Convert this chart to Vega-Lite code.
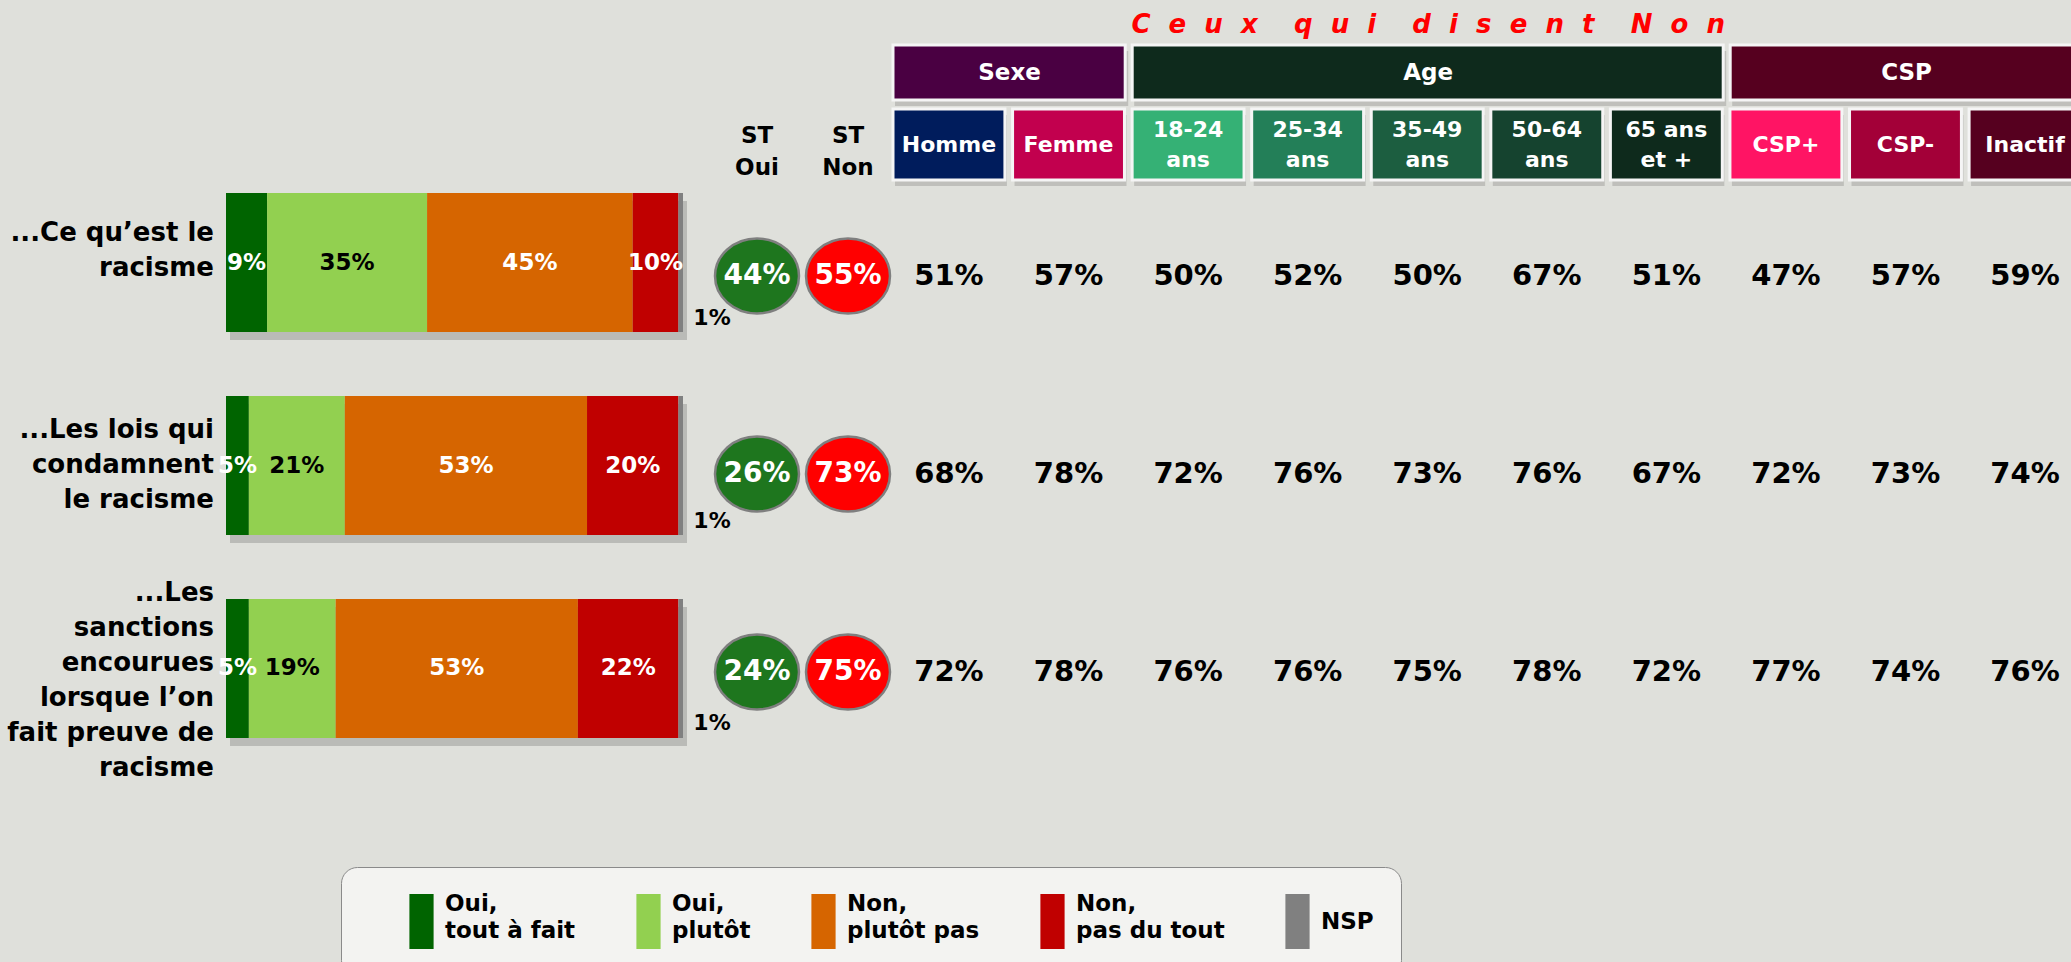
{
  "$schema": "https://vega.github.io/schema/vega-lite/v6.json",
  "width": 2071,
  "height": 962,
  "autosize": {"type": "none"},
  "padding": 0,
  "background": "#dfe0db",
  "config": {
    "view": {"stroke": null},
    "axis": {"disable": true},
    "text": {"font": "DejaVu Sans", "fontWeight": "bold"}
  },
  "datasets": {
    "bars": [
      {"q": "q1", "cat": "Oui, tout à fait", "o": 1, "v": 0.09},
      {"q": "q1", "cat": "Oui, plutôt", "o": 2, "v": 0.35},
      {"q": "q1", "cat": "Non, plutôt pas", "o": 3, "v": 0.45},
      {"q": "q1", "cat": "Non, pas du tout", "o": 4, "v": 0.10},
      {"q": "q1", "cat": "NSP", "o": 5, "v": 0.01},
      {"q": "q2", "cat": "Oui, tout à fait", "o": 1, "v": 0.05},
      {"q": "q2", "cat": "Oui, plutôt", "o": 2, "v": 0.21},
      {"q": "q2", "cat": "Non, plutôt pas", "o": 3, "v": 0.53},
      {"q": "q2", "cat": "Non, pas du tout", "o": 4, "v": 0.20},
      {"q": "q2", "cat": "NSP", "o": 5, "v": 0.01},
      {"q": "q3", "cat": "Oui, tout à fait", "o": 1, "v": 0.05},
      {"q": "q3", "cat": "Oui, plutôt", "o": 2, "v": 0.19},
      {"q": "q3", "cat": "Non, plutôt pas", "o": 3, "v": 0.53},
      {"q": "q3", "cat": "Non, pas du tout", "o": 4, "v": 0.22},
      {"q": "q3", "cat": "NSP", "o": 5, "v": 0.01}
    ],
    "questions": [
      {"q": "q1", "label": "...Ce qu’est le\nracisme"},
      {"q": "q2", "label": "...Les lois qui\ncondamnent\nle racisme"},
      {"q": "q3", "label": "...Les\nsanctions\nencourues\nlorsque l’on\nfait preuve de\nracisme"}
    ],
    "st": [
      {"q": "q1", "st": "ST Oui", "v": 0.44},
      {"q": "q1", "st": "ST Non", "v": 0.55},
      {"q": "q2", "st": "ST Oui", "v": 0.26},
      {"q": "q2", "st": "ST Non", "v": 0.73},
      {"q": "q3", "st": "ST Oui", "v": 0.24},
      {"q": "q3", "st": "ST Non", "v": 0.75}
    ],
    "sthead": [
      {"st": "ST Oui", "label": "ST\nOui"},
      {"st": "ST Non", "label": "ST\nNon"}
    ],
    "groups": [
      {"group": "Sexe", "start": 0, "end": 2},
      {"group": "Age", "start": 2, "end": 7},
      {"group": "CSP", "start": 7, "end": 10}
    ],
    "cols": [
      {"col": "Homme", "label": "Homme"},
      {"col": "Femme", "label": "Femme"},
      {"col": "18-24 ans", "label": "18-24\nans"},
      {"col": "25-34 ans", "label": "25-34\nans"},
      {"col": "35-49 ans", "label": "35-49\nans"},
      {"col": "50-64 ans", "label": "50-64\nans"},
      {"col": "65 ans et +", "label": "65 ans\net +"},
      {"col": "CSP+", "label": "CSP+"},
      {"col": "CSP-", "label": "CSP-"},
      {"col": "Inactif", "label": "Inactif"}
    ],
    "vals": [
      {"q": "q1", "col": "Homme", "v": 0.51},
      {"q": "q1", "col": "Femme", "v": 0.57},
      {"q": "q1", "col": "18-24 ans", "v": 0.50},
      {"q": "q1", "col": "25-34 ans", "v": 0.52},
      {"q": "q1", "col": "35-49 ans", "v": 0.50},
      {"q": "q1", "col": "50-64 ans", "v": 0.67},
      {"q": "q1", "col": "65 ans et +", "v": 0.51},
      {"q": "q1", "col": "CSP+", "v": 0.47},
      {"q": "q1", "col": "CSP-", "v": 0.57},
      {"q": "q1", "col": "Inactif", "v": 0.59},
      {"q": "q2", "col": "Homme", "v": 0.68},
      {"q": "q2", "col": "Femme", "v": 0.78},
      {"q": "q2", "col": "18-24 ans", "v": 0.72},
      {"q": "q2", "col": "25-34 ans", "v": 0.76},
      {"q": "q2", "col": "35-49 ans", "v": 0.73},
      {"q": "q2", "col": "50-64 ans", "v": 0.76},
      {"q": "q2", "col": "65 ans et +", "v": 0.67},
      {"q": "q2", "col": "CSP+", "v": 0.72},
      {"q": "q2", "col": "CSP-", "v": 0.73},
      {"q": "q2", "col": "Inactif", "v": 0.74},
      {"q": "q3", "col": "Homme", "v": 0.72},
      {"q": "q3", "col": "Femme", "v": 0.78},
      {"q": "q3", "col": "18-24 ans", "v": 0.76},
      {"q": "q3", "col": "25-34 ans", "v": 0.76},
      {"q": "q3", "col": "35-49 ans", "v": 0.75},
      {"q": "q3", "col": "50-64 ans", "v": 0.78},
      {"q": "q3", "col": "65 ans et +", "v": 0.72},
      {"q": "q3", "col": "CSP+", "v": 0.77},
      {"q": "q3", "col": "CSP-", "v": 0.74},
      {"q": "q3", "col": "Inactif", "v": 0.76}
    ]
  },
  "resolve": {"scale": {"x": "independent", "y": "independent", "yOffset": "independent", "color": "independent", "fill": "independent"}},
  "layer": [
    {
      "data": {"name": "questions"},
      "mark": {"type": "rect", "fill": "#8f8f8b", "opacity": 0.45, "yOffset": 8, "xOffset": 4, "x2Offset": 4},
      "encoding": {
        "x": {"datum": 0, "type": "quantitative", "scale": {"domain": [0, 1], "range": [226, 683], "zero": false, "nice": false}},
        "x2": {"datum": 1},
        "y": {"field": "q", "type": "nominal", "scale": {"type": "band", "domain": ["q1", "q2", "q3"], "range": [193, 738], "paddingInner": 0.315, "paddingOuter": 0}}
      }
    },
    {
      "data": {"name": "bars"},
      "transform": [{"stack": "v", "groupby": ["q"], "sort": [{"field": "o"}], "as": ["v0", "v1"]}],
      "mark": {"type": "rect"},
      "encoding": {
        "x": {"field": "v0", "type": "quantitative", "scale": {"domain": [0, 1], "range": [226, 683], "zero": false, "nice": false}},
        "x2": {"field": "v1"},
        "y": {"field": "q", "type": "nominal", "scale": {"type": "band", "domain": ["q1", "q2", "q3"], "range": [193, 738], "paddingInner": 0.315, "paddingOuter": 0}},
        "color": {
          "field": "cat", "type": "nominal",
          "scale": {"domain": ["Oui, tout à fait", "Oui, plutôt", "Non, plutôt pas", "Non, pas du tout", "NSP"], "range": ["#006400", "#92d050", "#d66500", "#c00000", "#808080"]},
          "legend": {
            "orient": "none", "legendX": 341, "legendY": 867,
            "direction": "horizontal", "columns": 5,
            "title": "\u00a0", "titleOrient": "left", "titlePadding": 26, "titleFontSize": 2,
            "padding": 27, "fillColor": "#f3f3f1", "strokeColor": "#8a8a8a", "cornerRadius": 16,
            "symbolType": "M-0.44,-1H0.44V1H-0.44Z", "symbolSize": 3025, "symbolStrokeWidth": 0, "symbolOpacity": 1,
            "labelFont": "DejaVu Sans", "labelFontWeight": "bold", "labelFontSize": 23, "labelColor": "#000",
            "labelOffset": -4, "labelLimit": 400, "columnPadding": 45,
            "labelExpr": "indexof(datum.label, ', ') > 0 ? [slice(datum.label, 0, indexof(datum.label, ', ') + 1), slice(datum.label, indexof(datum.label, ', ') + 2)] : datum.label",
            "encode": {"labels": {"update": {"lineHeight": {"value": 27}, "dy": {"signal": "indexof(datum.label, ', ') > 0 ? -18 : 0"}}}}
          }
        }
      }
    },
    {
      "data": {"name": "bars"},
      "transform": [
        {"stack": "v", "groupby": ["q"], "sort": [{"field": "o"}], "as": ["v0", "v1"]},
        {"filter": "datum.cat !== 'NSP'"},
        {"calculate": "(datum.v0 + datum.v1) / 2", "as": "mid"}
      ],
      "mark": {"type": "text", "fontSize": 23},
      "encoding": {
        "x": {"field": "mid", "type": "quantitative", "scale": {"domain": [0, 1], "range": [226, 683], "zero": false, "nice": false}},
        "y": {"field": "q", "type": "nominal", "scale": {"type": "band", "domain": ["q1", "q2", "q3"], "range": [193, 738], "paddingInner": 0.315, "paddingOuter": 0}},
        "text": {"field": "v", "format": ".0%"},
        "color": {"field": "cat", "type": "nominal", "scale": {"domain": ["Oui, tout à fait", "Oui, plutôt", "Non, plutôt pas", "Non, pas du tout"], "range": ["#ffffff", "#000000", "#ffffff", "#ffffff"]}, "legend": null}
      }
    },
    {
      "data": {"name": "bars"},
      "transform": [{"filter": "datum.cat === 'NSP'"}],
      "mark": {"type": "text", "fontSize": 22, "dx": 29, "dy": 55, "color": "#000000"},
      "encoding": {
        "x": {"datum": 1, "type": "quantitative", "scale": {"domain": [0, 1], "range": [226, 683], "zero": false, "nice": false}},
        "y": {"field": "q", "type": "nominal", "scale": {"type": "band", "domain": ["q1", "q2", "q3"], "range": [193, 738], "paddingInner": 0.315, "paddingOuter": 0}},
        "text": {"field": "v", "format": ".0%"}
      }
    },
    {
      "data": {"name": "questions"},
      "transform": [{"calculate": "length(split(datum.label, '\\n'))", "as": "nl"}],
      "mark": {"type": "text", "fontSize": 26, "align": "right", "dx": -12, "lineBreak": "\n", "lineHeight": 35, "color": "#000000"},
      "encoding": {
        "x": {"datum": 0, "type": "quantitative", "scale": {"domain": [0, 1], "range": [226, 683], "zero": false, "nice": false}},
        "y": {"field": "q", "type": "nominal", "scale": {"type": "point", "domain": ["q1", "q2", "q3"], "range": [250, 680], "padding": 0}},
        "yOffset": {"field": "nl", "type": "quantitative", "scale": {"domain": [1, 6], "range": [0, -87.5], "zero": false, "nice": false}},
        "text": {"field": "label"}
      }
    },
    {
      "data": {"name": "sthead"},
      "mark": {"type": "text", "fontSize": 23, "lineBreak": "\n", "lineHeight": 32, "color": "#000000"},
      "encoding": {
        "x": {"field": "st", "type": "nominal", "scale": {"type": "point", "domain": ["ST Oui", "ST Non"], "range": [757, 848], "padding": 0}},
        "y": {"datum": "h", "type": "nominal", "scale": {"type": "band", "domain": ["h"], "range": [104, 168], "paddingInner": 0, "paddingOuter": 0}},
        "text": {"field": "label"}
      }
    },
    {
      "data": {"name": "st"},
      "mark": {"type": "point", "filled": true, "opacity": 1, "shape": "M-1,0A1,0.893,0,1,1,1,0A1,0.893,0,1,1,-1,0Z", "size": 7056, "stroke": "#7f7f7f", "strokeWidth": 2.5},
      "encoding": {
        "x": {"field": "st", "type": "nominal", "scale": {"type": "point", "domain": ["ST Oui", "ST Non"], "range": [757, 848], "padding": 0}},
        "y": {"field": "q", "type": "nominal", "scale": {"type": "point", "domain": ["q1", "q2", "q3"], "range": [276, 672], "padding": 0}},
        "fill": {"field": "st", "type": "nominal", "scale": {"domain": ["ST Oui", "ST Non"], "range": ["#1e761e", "#ff0000"]}, "legend": null}
      }
    },
    {
      "data": {"name": "st"},
      "mark": {"type": "text", "fontSize": 28, "color": "#ffffff"},
      "encoding": {
        "x": {"field": "st", "type": "nominal", "scale": {"type": "point", "domain": ["ST Oui", "ST Non"], "range": [757, 848], "padding": 0}},
        "y": {"field": "q", "type": "nominal", "scale": {"type": "point", "domain": ["q1", "q2", "q3"], "range": [276, 672], "padding": 0}},
        "text": {"field": "v", "format": ".0%"}
      }
    },
    {
      "data": {"name": "groups"},
      "mark": {"type": "rect", "fill": "#8f8f8b", "opacity": 0.4, "yOffset": 6, "xOffset": 2, "x2Offset": -4},
      "encoding": {
        "x": {"field": "start", "type": "quantitative", "scale": {"domain": [0, 10], "range": [893, 2089], "zero": false, "nice": false}},
        "x2": {"field": "end"},
        "y": {"datum": "g", "type": "nominal", "scale": {"type": "band", "domain": ["g"], "range": [45, 100], "paddingInner": 0, "paddingOuter": 0}}
      }
    },
    {
      "data": {"name": "groups"},
      "mark": {"type": "rect", "stroke": "#f5f5f5", "strokeWidth": 3, "x2Offset": -7},
      "encoding": {
        "x": {"field": "start", "type": "quantitative", "scale": {"domain": [0, 10], "range": [893, 2089], "zero": false, "nice": false}},
        "x2": {"field": "end"},
        "y": {"datum": "g", "type": "nominal", "scale": {"type": "band", "domain": ["g"], "range": [45, 100], "paddingInner": 0, "paddingOuter": 0}},
        "fill": {"field": "group", "type": "nominal", "scale": {"domain": ["Sexe", "Age", "CSP"], "range": ["#4a0042", "#0e2a1c", "#56001f"]}, "legend": null}
      }
    },
    {
      "data": {"name": "groups"},
      "transform": [{"calculate": "(datum.start + datum.end) / 2", "as": "mid"}],
      "mark": {"type": "text", "fontSize": 23, "color": "#ffffff", "dx": -3},
      "encoding": {
        "x": {"field": "mid", "type": "quantitative", "scale": {"domain": [0, 10], "range": [893, 2089], "zero": false, "nice": false}},
        "y": {"datum": "g", "type": "nominal", "scale": {"type": "band", "domain": ["g"], "range": [45, 100], "paddingInner": 0, "paddingOuter": 0}},
        "text": {"field": "group"}
      }
    },
    {
      "data": {"name": "groups"},
      "transform": [{"filter": "datum.group === 'Age'"}, {"calculate": "(datum.start + datum.end) / 2", "as": "mid"}],
      "mark": {"type": "text", "fontSize": 26, "fontStyle": "italic", "color": "#ff0000", "dx": -3,
        "text": "C\u00a0\u00a0e\u00a0\u00a0u\u00a0\u00a0x\u00a0\u00a0\u00a0\u00a0q\u00a0\u00a0u\u00a0\u00a0i\u00a0\u00a0\u00a0\u00a0d\u00a0\u00a0i\u00a0\u00a0s\u00a0\u00a0e\u00a0\u00a0n\u00a0\u00a0t\u00a0\u00a0\u00a0\u00a0N\u00a0\u00a0o\u00a0\u00a0n"},
      "encoding": {
        "x": {"field": "mid", "type": "quantitative", "scale": {"domain": [0, 10], "range": [893, 2089], "zero": false, "nice": false}},
        "y": {"datum": "t", "type": "nominal", "scale": {"type": "band", "domain": ["t"], "range": [8, 42], "paddingInner": 0, "paddingOuter": 0}}
      }
    },
    {
      "data": {"name": "cols"},
      "mark": {"type": "rect", "fill": "#8f8f8b", "opacity": 0.4, "yOffset": 6, "xOffset": 2, "x2Offset": 2},
      "encoding": {
        "x": {"field": "col", "type": "nominal", "scale": {"type": "band", "domain": ["Homme", "Femme", "18-24 ans", "25-34 ans", "35-49 ans", "50-64 ans", "65 ans et +", "CSP+", "CSP-", "Inactif"], "range": [893, 2081], "paddingInner": 0.064, "paddingOuter": 0}},
        "y": {"datum": "s", "type": "nominal", "scale": {"type": "band", "domain": ["s"], "range": [109, 180], "paddingInner": 0, "paddingOuter": 0}}
      }
    },
    {
      "data": {"name": "cols"},
      "mark": {"type": "rect", "stroke": "#f5f5f5", "strokeWidth": 3},
      "encoding": {
        "x": {"field": "col", "type": "nominal", "scale": {"type": "band", "domain": ["Homme", "Femme", "18-24 ans", "25-34 ans", "35-49 ans", "50-64 ans", "65 ans et +", "CSP+", "CSP-", "Inactif"], "range": [893, 2081], "paddingInner": 0.064, "paddingOuter": 0}},
        "y": {"datum": "s", "type": "nominal", "scale": {"type": "band", "domain": ["s"], "range": [109, 180], "paddingInner": 0, "paddingOuter": 0}},
        "fill": {"field": "col", "type": "nominal", "scale": {"domain": ["Homme", "Femme", "18-24 ans", "25-34 ans", "35-49 ans", "50-64 ans", "65 ans et +", "CSP+", "CSP-", "Inactif"], "range": ["#001c5c", "#c2004e", "#35b175", "#237f58", "#1c5e40", "#15432f", "#0e2a1c", "#ff1464", "#a30038", "#56001f"]}, "legend": null}
      }
    },
    {
      "data": {"name": "cols"},
      "transform": [{"calculate": "length(split(datum.label, '\\n'))", "as": "nl"}],
      "mark": {"type": "text", "fontSize": 22, "color": "#ffffff", "lineBreak": "\n", "lineHeight": 30},
      "encoding": {
        "x": {"field": "col", "type": "nominal", "scale": {"type": "band", "domain": ["Homme", "Femme", "18-24 ans", "25-34 ans", "35-49 ans", "50-64 ans", "65 ans et +", "CSP+", "CSP-", "Inactif"], "range": [893, 2081], "paddingInner": 0.064, "paddingOuter": 0}},
        "y": {"datum": "s", "type": "nominal", "scale": {"type": "band", "domain": ["s"], "range": [109, 180], "paddingInner": 0, "paddingOuter": 0}},
        "yOffset": {"field": "nl", "type": "quantitative", "scale": {"domain": [1, 2], "range": [35.5, 20.5], "zero": false, "nice": false}},
        "text": {"field": "label"}
      }
    },
    {
      "data": {"name": "vals"},
      "mark": {"type": "text", "fontSize": 29, "color": "#000000"},
      "encoding": {
        "x": {"field": "col", "type": "nominal", "scale": {"type": "band", "domain": ["Homme", "Femme", "18-24 ans", "25-34 ans", "35-49 ans", "50-64 ans", "65 ans et +", "CSP+", "CSP-", "Inactif"], "range": [893, 2081], "paddingInner": 0.064, "paddingOuter": 0}},
        "y": {"field": "q", "type": "nominal", "scale": {"type": "point", "domain": ["q1", "q2", "q3"], "range": [276, 672], "padding": 0}},
        "text": {"field": "v", "format": ".0%"}
      }
    }
  ]
}
